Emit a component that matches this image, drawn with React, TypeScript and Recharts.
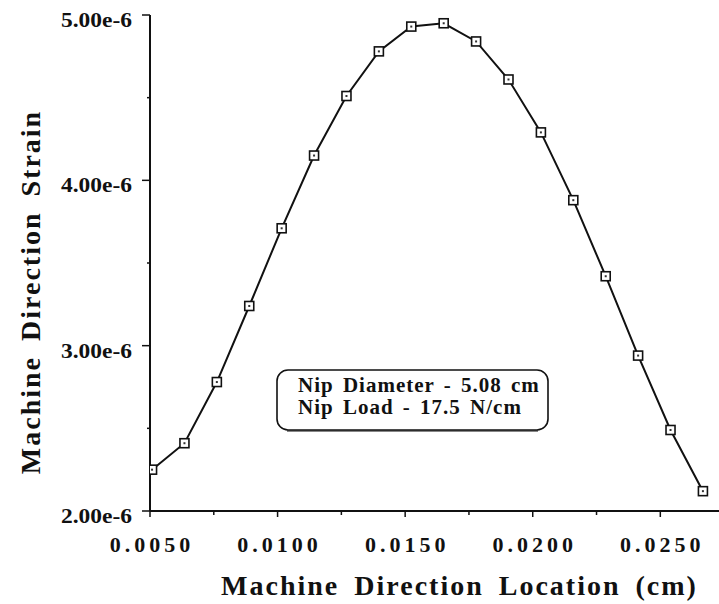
import React from 'react';
import { LineChart, Line, XAxis, YAxis } from 'recharts';

const locationCm = [
  0.00508, 0.00635, 0.00762, 0.00889, 0.01016, 0.01143, 0.0127, 0.01397, 0.01524,
  0.01651, 0.01778, 0.01905, 0.02032, 0.02159, 0.02286, 0.02413, 0.0254, 0.02667,
];
const strain = [
  2.25e-6, 2.41e-6, 2.78e-6, 3.24e-6, 3.71e-6, 4.15e-6, 4.51e-6, 4.78e-6, 4.93e-6,
  4.95e-6, 4.84e-6, 4.61e-6, 4.29e-6, 3.88e-6, 3.42e-6, 2.94e-6, 2.49e-6, 2.12e-6,
];
const xTicks = [0.005, 0.0075, 0.01, 0.0125, 0.015, 0.0175, 0.02, 0.0225, 0.025];
const xMajorTicks = [0.005, 0.01, 0.015, 0.02, 0.025];
const yTicks = [2e-6, 2.5e-6, 3e-6, 3.5e-6, 4e-6, 4.5e-6, 5e-6];
const yMajorTicks = [2e-6, 3e-6, 4e-6, 5e-6];
const xTitle = 'Machine Direction Location (cm)';
const yTitle = 'Machine Direction Strain';
const noteLines = ['Nip Diameter - 5.08 cm', 'Nip Load - 17.5 N/cm'];

const data = locationCm.map((x, i) => ({ x, strain: strain[i] }));

const FONT = '"Liberation Serif", "Times New Roman", serif';

const isMajor = (v: number, list: number[]) => list.some((m) => Math.abs(m - v) < 1e-9);

const XTick = (props: any) => {
  const { x, y, payload } = props;
  const v = payload.value as number;
  const major = isMajor(v, xMajorTicks);
  return (
    <g>
      <line x1={x} x2={x} y1={y} y2={y + (major ? 6 : 4)} stroke="#111" strokeWidth={1.5} />
      {major && (
        <text
          x={x + 2}
          y={y + 41}
          textAnchor="middle"
          fontFamily={FONT}
          fontWeight="bold"
          fontSize={22}
          letterSpacing={4}
          fill="#111"
        >
          {v.toFixed(4)}
        </text>
      )}
    </g>
  );
};

const YTick = (props: any) => {
  const { x, y, payload } = props;
  const v = payload.value as number;
  const major = isMajor(v, yMajorTicks);
  return (
    <g>
      <line x1={x - (major ? 8 : 3)} x2={x} y1={y} y2={y} stroke="#111" strokeWidth={1.5} />
      {major && (
        <text
          x={x - 89}
          y={y + 12}
          textAnchor="start"
          textLength={71}
          lengthAdjust="spacingAndGlyphs"
          fontFamily={FONT}
          fontWeight="bold"
          fontSize={22}
          fill="#111"
        >
          {(v * 1e6).toFixed(2) + 'e-6'}
        </text>
      )}
    </g>
  );
};

const SquareDot = (props: any) => {
  const { cx, cy, index } = props;
  if (cx == null || cy == null) return <g key={`d${index}`} />;
  return (
    <g key={`d${index}`}>
      <rect x={cx - 4.5} y={cy - 4.5} width={9} height={9} fill="#fff" stroke="#111" strokeWidth={1.6} />
      <rect x={cx - 1} y={cy - 1} width={2} height={2} fill="#333" />
    </g>
  );
};

const XTitle = (props: any) => {
  const vb = props.viewBox || { x: 150, y: 511, width: 569, height: 93 };
  return (
    <text
      x={vb.x + vb.width / 2 + 25}
      y={vb.y + 84}
      textAnchor="middle"
      fontFamily={FONT}
      fontWeight="bold"
      fontSize={28}
      letterSpacing={2}
      wordSpacing={6}
      fill="#111"
    >
      {xTitle}
    </text>
  );
};

const YTitle = (props: any) => {
  const cx = 40;
  const cy = 292;
  return (
    <text
      x={cx}
      y={cy}
      transform={`rotate(-90 ${cx} ${cy})`}
      textAnchor="middle"
      fontFamily={FONT}
      fontWeight="bold"
      fontSize={28}
      letterSpacing={2}
      wordSpacing={6}
      fill="#111"
    >
      {yTitle}
    </text>
  );
};

export default function App() {
  return (
    <div style={{ position: 'absolute', left: 0, top: 0, width: 719, height: 604, background: '#fff' }}>
      <LineChart width={719} height={604} data={data} margin={{ top: 15, right: 0, bottom: 0, left: 0 }}>
        <XAxis
          type="number"
          dataKey="x"
          domain={[0.005, 0.0273]}
          ticks={xTicks}
          allowDataOverflow
          height={93}
          tickSize={0}
          tickMargin={0}
          tickLine={false}
          tick={<XTick />}
          axisLine={{ stroke: '#111', strokeWidth: 2 }}
          interval={0}
          label={{ content: (p: any) => <XTitle {...p} /> }}
        />
        <YAxis
          type="number"
          domain={[2e-6, 5e-6]}
          ticks={yTicks}
          allowDataOverflow
          width={150}
          tickSize={0}
          tickMargin={0}
          tickLine={false}
          tick={<YTick />}
          axisLine={{ stroke: '#111', strokeWidth: 2 }}
          interval={0}
          label={{ content: (p: any) => <YTitle {...p} /> }}
        />
        <Line
          type="linear"
          dataKey="strain"
          stroke="#111"
          strokeWidth={2}
          dot={(p: any) => <SquareDot key={`dot${p.index}`} {...p} />}
          activeDot={false}
          isAnimationActive={false}
        />
      </LineChart>
      <svg
        width={719}
        height={604}
        style={{ position: 'absolute', left: 0, top: 0, pointerEvents: 'none' }}
      >
        <rect x={277} y={370} width={271} height={60} rx={11} ry={11} fill="#fff" stroke="#111" strokeWidth={1.6} />
        <line x1={287} x2={538} y1={431} y2={431} stroke="#111" strokeWidth={1} />
        {noteLines.map((t, i) => (
          <text
            key={t}
            x={298}
            y={392 + i * 22}
            fontFamily={FONT}
            fontWeight="bold"
            fontSize={21}
            letterSpacing={1}
            wordSpacing={3}
            fill="#111"
          >
            {t}
          </text>
        ))}
      </svg>
    </div>
  );
}
